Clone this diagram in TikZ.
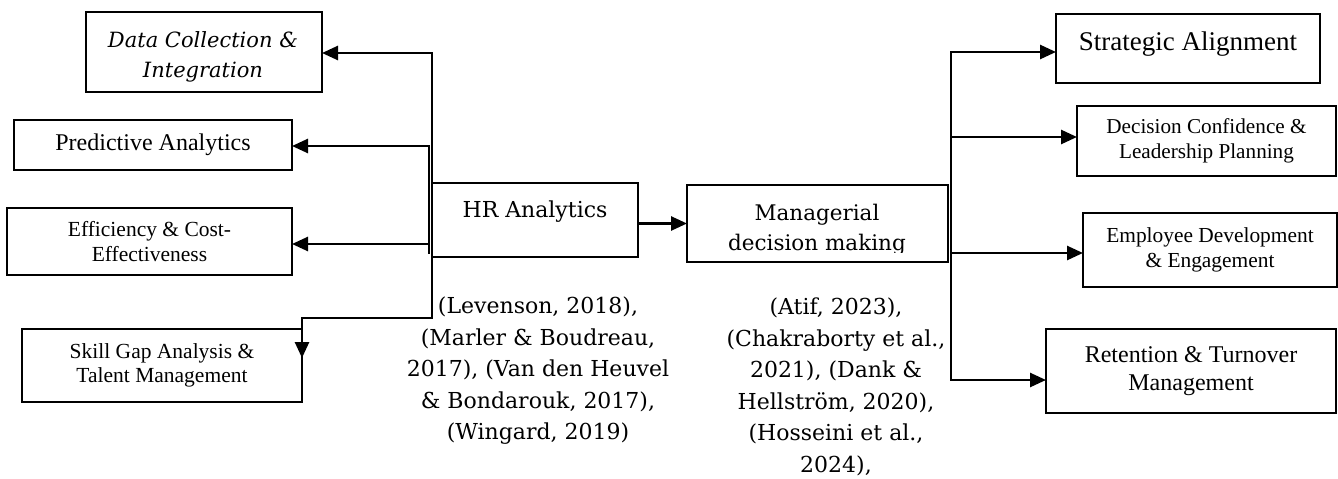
\documentclass[tikz,border=0pt]{standalone}
\usepackage{fontspec}
\setmainfont{Liberation Serif}
\newfontfamily\cambria{DejaVu Serif}
\usetikzlibrary{arrows.meta}
\tikzstyle{box}=[draw,line width=2.2pt,inner sep=0pt,outer sep=0pt,align=center]
\tikzstyle{wire}=[draw,line width=2.6pt,line cap=rect]
\tikzstyle{link}=[draw,line width=2.6pt,-{Triangle[length=16pt,width=14pt]}]
\tikzstyle{cite}=[align=center,inner sep=0pt,font=\cambria\fontsize{22}{31.5}\selectfont]

\begin{document}
\begin{tikzpicture}[x=1pt,y=-1pt]
    \useasboundingbox (0,0) rectangle (1338,479);
    % Boxes on the left
    \node[box,minimum width=236pt,minimum height=80pt] (dci) at (204,52) {};
    \begin{scope}
        \clip (dci.north west) rectangle ([yshift=10pt]dci.south east);
        \node[align=center,font=\cambria\itshape\fontsize{21}{30}\selectfont] (dcitext) at (203,57) {Data Collection \&\\Integration};
    \end{scope}
    \node[box,minimum width=278pt,minimum height=50pt,font=\fontsize{24}{28}\selectfont] (pa) at (153,145) {Predictive Analytics};
    \node[box,minimum width=285pt,minimum height=67pt,font=\fontsize{21.5}{25}\selectfont] (ece) at (149.5,241.5) {Efficiency \& Cost-\\Effectiveness};
    \node[box,minimum width=280pt,minimum height=73pt,font=\fontsize{21.5}{24}\selectfont] (sgtm) at (162,365.5) {Skill Gap Analysis \&\\Talent Management};
    % The two boxes in the middle
    \node[box,minimum width=206pt,minimum height=74pt,text height=15pt,text depth=20pt,font=\cambria\fontsize{22}{25}\selectfont] (hra) at (535,220) {HR Analytics};
    \node[box,minimum width=261pt,minimum height=77pt] (mdm) at (817.5,223.5) {};
    \begin{scope}
        \clip (mdm.north west) rectangle ([yshift=10pt]mdm.south east);
        \node[align=center,font=\cambria\fontsize{21.5}{30}\selectfont] (mdmtext) at (817,230) {Managerial\\decision making};
    \end{scope}
    % Boxes on the right
    \node[box,minimum width=264pt,minimum height=69pt,text height=19pt,text depth=16pt,font=\fontsize{27}{30}\selectfont] (sa) at (1188,48.5) {Strategic Alignment};
    \node[box,minimum width=259pt,minimum height=70pt,font=\fontsize{21.2}{25}\selectfont] (dclp) at (1206.5,141) {Decision Confidence \&\\Leadership Planning};
    \node[box,minimum width=254pt,minimum height=74pt,font=\fontsize{21.4}{25}\selectfont] (ede) at (1210,250) {Employee Development\\\& Engagement};
    \node[box,minimum width=290pt,minimum height=84pt,font=\fontsize{24}{28}\selectfont] (rtm) at (1191,371) {Retention \& Turnover\\Management};
    % References under the middle boxes
    \node[cite] (hraref) at (538,371) {(Levenson, 2018),\\(Marler \& Boudreau,\\2017), (Van den Heuvel\\\& Bondarouk, 2017),\\(Wingard, 2019)};
    \node[cite] (mdmref) at (836,387) {(Atif, 2023),\\(Chakraborty et al.,\\2021), (Dank \&\\Hellström, 2020),\\(Hosseini et al.,\\2024),};
    % Points on the two trunks
    \coordinate (ldc) at (432,53);
    \coordinate (lpa) at (429,146);
    \coordinate (lec) at (429,244);
    \coordinate (lsg) at (432,318);
    \coordinate (rsa) at (951,52);
    \coordinate (rdc) at (951,137);
    \coordinate (red) at (951,253);
    \coordinate (rrt) at (951,380);
    % Trunks
    \path[wire] (ldc) -- (lsg);
    \path[wire] (lpa) -- ([yshift=-9pt]lec);
    \path[wire] (rsa) -- (rrt);
    % Arrows out of the trunks
    \foreach \source/\dest in {ldc/dci, lpa/pa, lec/ece}
        \path[link] (\source) -- (\source -| \dest.east);
    \foreach \source/\dest in {rsa/sa, rdc/dclp, red/ede, rrt/rtm}
        \path[link] (\source) -- (\source -| \dest.west);
    \path[link] (lsg) -| ([yshift=7.5pt]sgtm.east);
    \path[link] (hra.east |- mdm.west) -- (mdm.west);
\end{tikzpicture}
\end{document}
